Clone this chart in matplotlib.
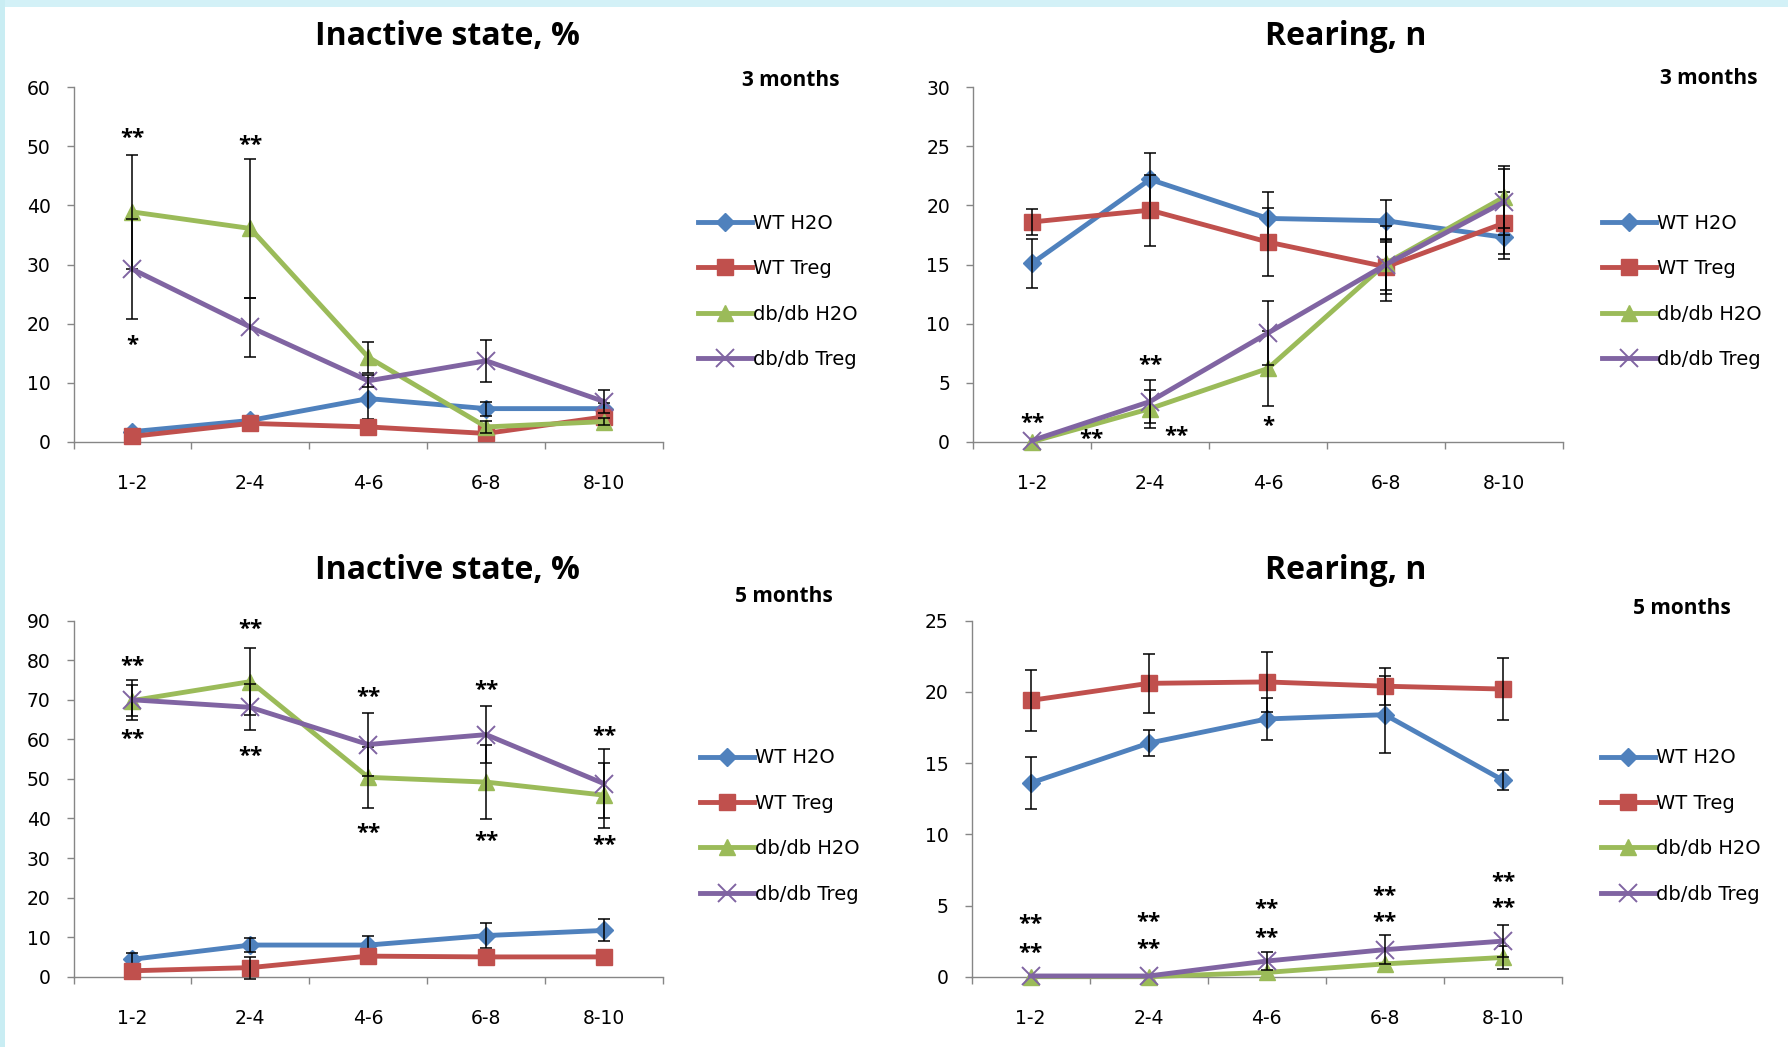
import matplotlib
matplotlib.use("Agg")
import matplotlib.pyplot as plt
import numpy as np
from matplotlib.patches import Rectangle
from matplotlib.ticker import FixedLocator, NullFormatter, FixedFormatter

plt.rcParams['font.family'] = ['Open Sans', 'DejaVu Sans']

# ---------------- data ----------------
categories = ['1-2', '2-4', '4-6', '6-8', '8-10']
series_names = ['WT H2O', 'WT Treg', 'db/db H2O', 'db/db Treg']

# Inactive state, % - 3 months
inact3_wt_h2o = [1.7, 3.6, 7.3, 5.6, 5.6]
inact3_wt_h2o_err = [0.0, 0.0, 3.4, 1.2, 1.0]
inact3_wt_treg = [0.9, 3.1, 2.5, 1.4, 4.2]
inact3_wt_treg_err = [0.0, 0.0, 0.0, 0.0, 0.0]
inact3_db_h2o = [38.9, 36.1, 14.3, 2.5, 3.4]
inact3_db_h2o_err = [9.6, 11.7, 2.6, 1.0, 0.6]
inact3_db_treg = [29.2, 19.4, 10.3, 13.7, 6.8]
inact3_db_treg_err = [8.5, 5.0, 1.0, 3.6, 2.0]
inact3_stars = [(0, 51.9, '**'), (1, 50.6, '**'), (0, 16.8, '*')]

# Rearing, n - 3 months
rear3_wt_h2o = [15.1, 22.2, 18.9, 18.7, 17.3]
rear3_wt_h2o_err = [2.1, 2.2, 2.2, 1.8, 1.8]
rear3_wt_treg = [18.6, 19.6, 16.9, 14.8, 18.5]
rear3_wt_treg_err = [1.1, 3.0, 2.9, 2.3, 2.6]
rear3_db_h2o = [0.0, 2.8, 6.2, 15.1, 20.7]
rear3_db_h2o_err = [0.0, 1.6, 3.2, 3.2, 2.6]
rear3_db_treg = [0.1, 3.4, 9.2, 15.0, 20.3]
rear3_db_treg_err = [0.0, 1.8, 2.7, 2.2, 2.8]
rear3_stars = [(0, 1.8, '**'), (0.5, 0.4, '**'), (1, 6.7, '**'),
               (1.22, 0.7, '**'), (2, 1.55, '*')]

# Inactive state, % - 5 months
inact5_wt_h2o = [4.4, 8.0, 8.0, 10.4, 11.7]
inact5_wt_h2o_err = [1.7, 1.7, 2.2, 3.2, 2.8]
inact5_wt_treg = [1.5, 2.3, 5.2, 5.0, 5.0]
inact5_wt_treg_err = [0.0, 2.8, 0.0, 0.0, 0.0]
inact5_db_h2o = [69.8, 74.6, 50.4, 49.2, 45.9]
inact5_db_h2o_err = [4.0, 8.4, 7.7, 9.3, 8.2]
inact5_db_treg = [70.0, 68.1, 58.7, 61.2, 48.8]
inact5_db_treg_err = [5.1, 5.8, 7.9, 7.3, 8.8]
inact5_stars = [(0, 79.2, '**'), (1, 88.6, '**'), (2, 71.2, '**'), (3, 73.2, '**'), (4, 61.5, '**'),
                (0, 60.6, '**'), (1, 56.5, '**'), (2, 36.9, '**'), (3, 34.8, '**'), (4, 33.9, '**')]

# Rearing, n - 5 months
rear5_wt_h2o = [13.6, 16.4, 18.1, 18.4, 13.8]
rear5_wt_h2o_err = [1.8, 0.9, 1.45, 2.7, 0.7]
rear5_wt_treg = [19.4, 20.6, 20.7, 20.4, 20.2]
rear5_wt_treg_err = [2.15, 2.05, 2.1, 1.3, 2.15]
rear5_db_h2o = [0.0, 0.0, 0.3, 0.9, 1.35]
rear5_db_h2o_err = [0.0, 0.0, 0.0, 0.0, 0.8]
rear5_db_treg = [0.05, 0.05, 1.1, 1.9, 2.5]
rear5_db_treg_err = [0.0, 0.0, 0.6, 1.0, 1.15]
rear5_stars = [(0, 3.85, '**'), (0, 1.8, '**'), (1, 4.0, '**'), (1, 2.1, '**'),
               (2, 4.9, '**'), (2, 2.9, '**'), (3, 5.8, '**'), (3, 4.0, '**'),
               (4, 6.8, '**'), (4, 5.0, '**')]

# ---------------- style ----------------
W, H = 1788, 1047
colors = ['#4F81BD', '#C0504D', '#9BBB59', '#8064A2']
markers = ['D', 's', '^', 'x']
msizes = [9, 11.5, 12, 13]
spine_col = '#868686'
tick_font = 'DejaVu Sans'

fig = plt.figure(figsize=(W / 100, H / 100), dpi=100)
fig.patch.set_facecolor('white')
# slide background edges
fig.add_artist(Rectangle((0, 1 - 7 / H), 1, 7 / H, transform=fig.transFigure,
                         facecolor='#D3F1F7', edgecolor='none', zorder=0))
fig.add_artist(Rectangle((0, 0), 5 / W, 1, transform=fig.transFigure,
                         facecolor='#C9EDF3', edgecolor='none', zorder=0))


def px_ax(left, right, top, bottom):
    return [left / W, 1 - bottom / H, (right - left) / W, (bottom - top) / H]


def panel(rect, ys, errs, ymax, ystep, stars, title, title_xy, sub, sub_xy, leg_xy):
    ax = fig.add_axes(px_ax(*rect))
    x = [i + 0.5 for i in range(len(categories))]
    handles = []
    for i, (y, e) in enumerate(zip(ys, errs)):
        ln, = ax.plot(x, y, color=colors[i], marker=markers[i], ms=msizes[i], lw=3.5,
                      mew=1.4 if markers[i] == 'x' else 1.0,
                      mec=colors[i], mfc=colors[i], label=series_names[i],
                      zorder=3 + 2 * i, clip_on=False, solid_joinstyle='round')
        e_arr = np.array(e, dtype=float)
        e_arr[e_arr == 0] = np.nan
        ax.errorbar(x, y, yerr=e_arr, fmt='none', ecolor='black', elinewidth=1.1,
                    capsize=4.5, capthick=1.1, zorder=4 + 2 * i, clip_on=False)
        handles.append(ln)
    ax.set_xlim(0, len(categories))
    ax.set_ylim(0, ymax)
    ax.set_yticks([v * ystep for v in range(int(round(ymax / ystep)) + 1)])
    ax.xaxis.set_major_locator(FixedLocator(list(range(len(categories) + 1))))
    ax.xaxis.set_major_formatter(NullFormatter())
    ax.xaxis.set_minor_locator(FixedLocator(x))
    ax.xaxis.set_minor_formatter(FixedFormatter(categories))
    ax.tick_params(axis='x', which='major', length=5, width=1, color=spine_col, direction='out')
    ax.tick_params(axis='x', which='minor', length=0, pad=23.5, labelsize=13.5)
    ax.tick_params(axis='y', length=5, width=1, color=spine_col, direction='out',
                   pad=11.5, labelsize=13.5)
    for lab in ax.get_xticklabels(minor=True) + ax.get_yticklabels():
        lab.set_family(tick_font)
    for s in ['top', 'right']:
        ax.spines[s].set_visible(False)
    for s in ['left', 'bottom']:
        ax.spines[s].set_color(spine_col)
        ax.spines[s].set_linewidth(1)
    ax.set_facecolor('none')
    for (xi, yv, txt) in stars:
        ax.annotate(txt, xy=(xi + 0.5, yv), xytext=(0, -6), textcoords='offset points',
                    ha='center', va='baseline', fontsize=16, fontweight='bold',
                    color='black', zorder=20, annotation_clip=False)
    fig.text(title_xy[0] / W, 1 - title_xy[1] / H, title, ha='center', va='baseline',
             fontsize=23, fontweight='bold')
    fig.text(sub_xy[0] / W, 1 - sub_xy[1] / H, sub, ha='center', va='baseline',
             fontsize=15, fontweight='bold')
    fig.legend(handles=handles, loc='center left',
               bbox_to_anchor=(leg_xy[0] / W, 1 - leg_xy[1] / H),
               frameon=False, prop={'family': tick_font, 'size': 14},
               handlelength=2.78, handletextpad=0.05,
               labelspacing=1.36, borderpad=0, borderaxespad=0, numpoints=1)
    return ax


panel((73.5, 663, 87.3, 441.7),
      [inact3_wt_h2o, inact3_wt_treg, inact3_db_h2o, inact3_db_treg],
      [inact3_wt_h2o_err, inact3_wt_treg_err, inact3_db_h2o_err, inact3_db_treg_err],
      60, 10, inact3_stars, 'Inactive state, %', (447, 45), '3 months', (791, 85.5), (698, 291.5))

panel((973, 1563, 87.3, 441.7),
      [rear3_wt_h2o, rear3_wt_treg, rear3_db_h2o, rear3_db_treg],
      [rear3_wt_h2o_err, rear3_wt_treg_err, rear3_db_h2o_err, rear3_db_treg_err],
      30, 5, rear3_stars, 'Rearing, n', (1346, 45), '3 months', (1709, 83.5), (1602, 291.5))

panel((73.5, 663, 620.7, 976.7),
      [inact5_wt_h2o, inact5_wt_treg, inact5_db_h2o, inact5_db_treg],
      [inact5_wt_h2o_err, inact5_wt_treg_err, inact5_db_h2o_err, inact5_db_treg_err],
      90, 10, inact5_stars, 'Inactive state, %', (447, 579), '5 months', (784, 602.5), (700, 826))

panel((971.5, 1562, 620.7, 976.7),
      [rear5_wt_h2o, rear5_wt_treg, rear5_db_h2o, rear5_db_treg],
      [rear5_wt_h2o_err, rear5_wt_treg_err, rear5_db_h2o_err, rear5_db_treg_err],
      25, 5, rear5_stars, 'Rearing, n', (1346, 579), '5 months', (1682, 613.5), (1601, 826))

fig.savefig('out.png', dpi=100, facecolor='white')
